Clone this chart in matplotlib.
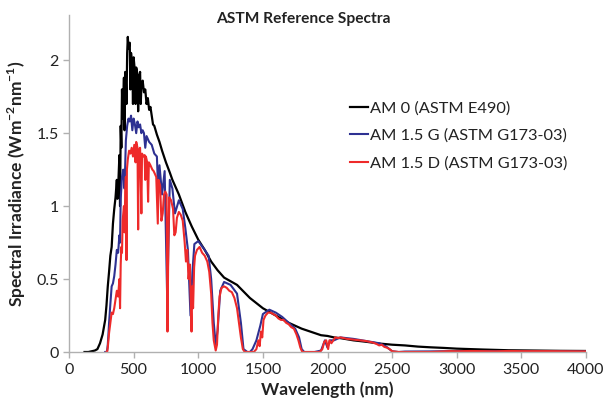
import matplotlib
matplotlib.use("Agg")
import matplotlib.pyplot as plt
from matplotlib.ticker import FormatStrFormatter

# AM 0 (ASTM E490)
wl_am0 = [120, 150, 200, 220, 240, 260, 280, 290, 300, 310, 320, 330, 340, 350, 360,
          370, 375, 380, 390, 395, 400, 405, 410, 415, 420, 425, 430, 435, 440, 445, 450, 455, 460, 470,
          475, 480, 490, 495, 500, 510, 515, 520, 530, 535, 540, 550, 555, 560, 570, 580, 590, 600, 610,
          620, 630, 640, 650, 660, 680, 700, 720, 750, 780, 800, 850, 900, 950, 1000,
          1050, 1100, 1150, 1200, 1300, 1400, 1500, 1600, 1700, 1800, 1900, 1950, 2000,
          2050, 2100, 2200, 2300, 2400, 2500, 2600, 2700, 2800, 2900, 3000, 3200, 3400,
          3600, 3800, 4000]
am0 = [0.00, 0.00, 0.01, 0.02, 0.06, 0.12, 0.22, 0.32, 0.45, 0.55, 0.66, 0.72, 0.88, 0.98, 1.06,
       1.18, 1.05, 1.12, 1.35, 1.00, 1.55, 1.40, 1.80, 1.60, 1.72, 1.88, 1.52, 1.92, 1.85, 1.70, 2.05, 2.16, 2.08, 2.12,
       1.80, 2.05, 1.96, 1.70, 2.02, 1.92, 1.70, 1.95, 1.90, 1.65, 1.86, 1.92, 1.70, 1.82, 1.86, 1.78, 1.80, 1.70, 1.74,
       1.66, 1.68, 1.62, 1.56, 1.55, 1.49, 1.44, 1.38, 1.30, 1.23, 1.18, 1.08, 0.96, 0.86, 0.77,
       0.70, 0.62, 0.56, 0.51, 0.46, 0.37, 0.30, 0.25, 0.20, 0.16, 0.13, 0.115, 0.11,
       0.10, 0.095, 0.08, 0.07, 0.058, 0.05, 0.045, 0.037, 0.032, 0.028, 0.023, 0.017, 0.012,
       0.010, 0.008, 0.007]

# AM 1.5 G (ASTM G173-03)
wl_g = [280, 290, 295, 300, 305, 310, 320, 330, 340, 350, 360, 370, 380, 390, 395,
        400, 410, 420, 430, 440, 450, 460, 470, 480, 490, 500, 510, 520, 530, 540,
        550, 560, 570, 580, 590, 600, 620, 640, 660, 680, 690, 700, 720, 740, 760,
        780, 800, 820, 850, 880, 900, 920, 940, 955, 970, 1000, 1050, 1080, 1100, 1120,
        1135, 1150, 1170, 1200, 1250, 1300, 1330, 1350, 1380, 1400, 1420, 1450, 1480, 1500,
        1550, 1600, 1650, 1700, 1750, 1780, 1800, 1820, 1850, 1900, 1950, 1980, 2000, 2020,
        2050, 2100, 2200, 2300, 2400, 2450, 2500, 2550, 2600, 2800, 3000, 3200, 3400, 3600,
        3800, 4000]
am15g = [0.0, 0.0, 0.01, 0.05, 0.12, 0.20, 0.33, 0.45, 0.47, 0.52, 0.60, 0.70, 0.68, 0.80, 0.75,
         1.05, 1.20, 1.25, 1.12, 1.45, 1.55, 1.60, 1.58, 1.62, 1.52, 1.60, 1.56, 1.50, 1.58, 1.54,
         1.56, 1.50, 1.52, 1.50, 1.40, 1.48, 1.44, 1.42, 1.36, 1.34, 1.10, 1.28, 1.08, 1.24, 0.35,
         1.18, 1.12, 0.95, 1.04, 0.98, 0.85, 0.70, 0.25, 0.55, 0.74, 0.76, 0.70, 0.66, 0.50, 0.20,
         0.05, 0.15, 0.42, 0.48, 0.46, 0.40, 0.20, 0.02, 0.0, 0.0, 0.02, 0.08, 0.18, 0.26,
         0.29, 0.27, 0.24, 0.20, 0.16, 0.10, 0.02, 0.0, 0.0, 0.0, 0.01, 0.08, 0.03, 0.08,
         0.08, 0.10, 0.09, 0.075, 0.06, 0.04, 0.005, 0.0, 0.003, 0.004, 0.006, 0.006, 0.006, 0.005,
         0.005, 0.004]

# AM 1.5 D (ASTM G173-03)
wl_d = [290, 295, 300, 305, 310, 320, 330, 340, 350, 360, 370, 380, 390, 395, 400,
        405, 410, 415, 420, 425, 430, 435, 440, 445, 448, 455, 465, 475, 485, 495,
        505, 515, 520, 530, 535, 540, 550, 560, 565, 575, 585, 590, 595, 605, 612,
        618, 630, 645, 655, 665, 675, 687, 692, 705, 715, 725, 735, 745, 755, 762,
        768, 775, 790, 805, 815, 825, 835, 850, 865, 880, 895, 905, 915, 925, 935,
        942, 948, 953, 960, 968, 975, 990, 1010, 1030, 1050, 1070, 1085, 1100, 1110, 1120, 1135, 1145,
        1155, 1165, 1180, 1200, 1220, 1240, 1260, 1280, 1300, 1315, 1330, 1345, 1360, 1400, 1430,
        1450, 1465, 1475, 1485, 1495, 1505, 1520, 1540, 1560, 1580, 1600, 1620, 1640, 1660, 1680,
        1700, 1720, 1740, 1760, 1775, 1790, 1805, 1850, 1900, 1940, 1960, 1975, 1990, 2005, 2015,
        2030, 2045, 2060, 2080, 2100, 2150, 2200, 2250, 2300, 2350, 2380, 2400, 2420, 2440, 2460,
        2480, 2500, 2550, 2600, 2800, 2900, 2950, 3000, 3100, 3200, 3300, 3400, 3500, 3700, 3900,
        4000]
am15d = [0.0, 0.0, 0.03, 0.08, 0.13, 0.20, 0.27, 0.26, 0.30, 0.36, 0.42, 0.38, 0.50, 0.30, 0.60,
         0.72, 0.68, 0.90, 0.95, 1.00, 0.82, 1.10, 1.20, 0.63, 1.25, 1.32, 1.38, 1.36, 1.40, 1.34,
         1.42, 1.30, 1.44, 1.40, 0.84, 1.38, 1.40, 0.95, 1.36, 1.34, 1.35, 1.18, 1.34, 1.30, 1.03,
         1.30, 1.28, 1.25, 1.24, 1.22, 1.20, 0.88, 1.18, 1.14, 0.90, 0.95, 1.08, 1.10, 1.08, 0.14,
         0.70, 1.06, 1.04, 0.98, 0.80, 0.82, 0.92, 0.96, 0.94, 0.90, 0.75, 0.62, 0.70, 0.50, 0.60,
         0.35, 0.14, 0.45, 0.30, 0.58, 0.66, 0.70, 0.72, 0.68, 0.66, 0.62, 0.55, 0.40, 0.20, 0.08, 0.01, 0.05,
         0.25, 0.38, 0.44, 0.45, 0.44, 0.42, 0.41, 0.37, 0.30, 0.20, 0.10, 0.02, 0.0, 0.0, 0.0,
         0.02, 0.08, 0.04, 0.14, 0.10, 0.22, 0.25, 0.27, 0.27, 0.26, 0.25, 0.23, 0.22, 0.22, 0.20,
         0.19, 0.17, 0.16, 0.12, 0.08, 0.03, 0.0, 0.0, 0.0, 0.0, 0.02, 0.07, 0.08, 0.02, 0.08,
         0.06, 0.08, 0.10, 0.095, 0.10, 0.09, 0.085, 0.08, 0.075, 0.065, 0.055, 0.045, 0.05, 0.035, 0.03,
         0.02, 0.005, 0.0, 0.0, 0.0, 0.004, 0.006, 0.005, 0.007, 0.006, 0.005, 0.007, 0.006, 0.006, 0.005,
         0.004]

labels = ["AM 0 (ASTM E490)", "AM 1.5 G (ASTM G173-03)", "AM 1.5 D (ASTM G173-03)"]
colors = ["#000000", "#2e3192", "#ee2a2a"]

plt.rcParams['font.family'] = ['Lato', 'DejaVu Sans']
plt.rcParams['mathtext.fontset'] = 'custom'
plt.rcParams['mathtext.rm'] = 'Lato'
plt.rcParams['mathtext.bf'] = 'Lato:bold'

fig = plt.figure(figsize=(6.08, 4.11), dpi=100)
ax = fig.add_axes([69 / 608, 1 - 352 / 411, (586 - 69) / 608, (352 - 15) / 411])

ax.plot(wl_am0, am0, color=colors[0], lw=1.6, label=labels[0])
ax.plot(wl_g, am15g, color=colors[1], lw=1.5, label=labels[1])
ax.plot(wl_d, am15d, color=colors[2], lw=1.5, label=labels[2])

ax.set_xlim(0, 4000)
ax.set_ylim(0, 2.31)
ax.set_xticks(range(0, 4001, 500))
ax.set_yticks([0, 0.5, 1, 1.5, 2])
ax.yaxis.set_major_formatter(FormatStrFormatter('%g'))

for s in ['top', 'right']:
    ax.spines[s].set_visible(False)
for s in ['left', 'bottom']:
    ax.spines[s].set_color('#b0b0b0')
    ax.spines[s].set_linewidth(1.0)
ax.tick_params(colors='#b0b0b0', labelcolor='#222222', labelsize=11.5, length=4, width=1)
ax.tick_params(axis='x', pad=4)

ax.set_xlabel('Wavelength (nm)', fontsize=12.5, fontweight='bold', color='#222222', labelpad=3)
ax.set_ylabel(r'Spectral Irradiance (Wm$^{\mathbf{-2}}$nm$^{\mathbf{-1}}$)', fontsize=12.5,
              fontweight='bold', color='#222222', labelpad=6)

fig.text(303 / 608, 1 - 19 / 411, 'ASTM Reference Spectra', ha='center', va='center',
         fontsize=11.2, fontweight='bold', color='#222222')

ax.legend(loc='upper left', bbox_to_anchor=(350 / 608, 1 - 101 / 411),
          bbox_transform=fig.transFigure, frameon=False, fontsize=11.8,
          handlelength=1.1, handletextpad=0.15, labelspacing=0.8,
          borderpad=0, borderaxespad=0, labelcolor='#222222')

fig.savefig('out.png', dpi=100)
